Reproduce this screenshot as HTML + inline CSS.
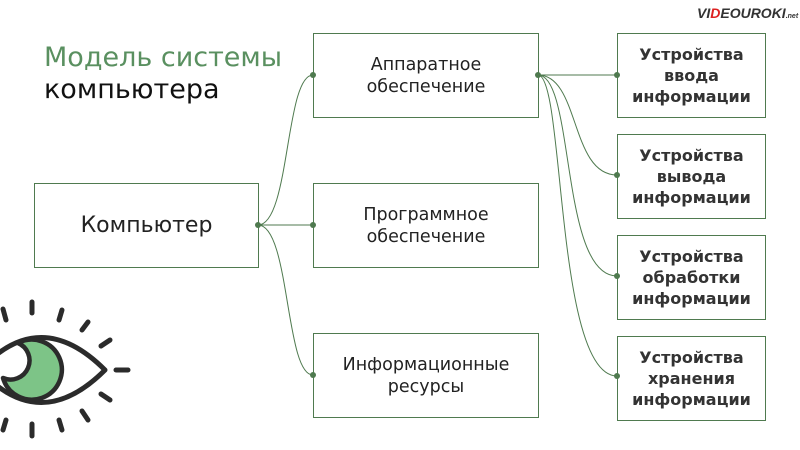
<!DOCTYPE html><html><head><meta charset="utf-8"><style>
body{margin:0;width:800px;height:450px;background:#fff;overflow:hidden;position:relative;font-family:"DejaVu Sans","Liberation Sans",sans-serif}
.b{position:absolute;border:1px solid #4f7a4f;box-sizing:border-box;display:flex;align-items:center;justify-content:center;text-align:center;color:#222;background:#fff}
.m{font-size:17.5px;line-height:22px}
.r{font-size:16px;line-height:21px;font-weight:bold;color:#333}
svg{position:absolute;left:0;top:0}
</style></head><body>
<div style="position:absolute;left:44px;top:41px;font-size:27px;line-height:33px;color:#5a9060">Модель системы</div>
<div style="position:absolute;left:44px;top:73px;font-size:27px;line-height:33px;color:#111">компьютера</div>
<div style="position:absolute;left:697px;top:5px;font-size:14px;font-weight:bold;font-style:italic;color:#333;font-family:'Liberation Sans',sans-serif">VI<span style="color:#d22">D</span>EOUROKI<span style="font-size:7px">.net</span></div>
<div class="b" style="left:34px;top:183px;width:225px;height:85px;font-size:22px">Компьютер</div>
<div class="b m" style="left:313px;top:33px;width:226px;height:85px">Аппаратное<br>обеспечение</div>
<div class="b m" style="left:313px;top:183px;width:226px;height:85px">Программное<br>обеспечение</div>
<div class="b m" style="left:313px;top:333px;width:226px;height:85px">Информационные<br>ресурсы</div>
<div class="b r" style="left:617px;top:33px;width:149px;height:85px">Устройства<br>ввода<br>информации</div>
<div class="b r" style="left:617px;top:134px;width:149px;height:85px">Устройства<br>вывода<br>информации</div>
<div class="b r" style="left:617px;top:235px;width:149px;height:85px">Устройства<br>обработки<br>информации</div>
<div class="b r" style="left:617px;top:336px;width:149px;height:85px">Устройства<br>хранения<br>информации</div>
<svg width="800" height="450" fill="none" stroke="#4f7a4f" stroke-width="1">
<path d="M258 225 C290 225,285 75,313 75 M258 225 L313 225 M258 225 C290 225,285 375,313 375"/>
<path d="M538 75 L617 75 M538 75 C580 75,570 175,617 175 M538 75 C575 75,560 276,617 276 M538 75 C565 75,555 376,617 376"/>
<g fill="#4f7a4f" stroke="none"><circle cx="258" cy="225" r="3"/><circle cx="313" cy="75" r="3"/><circle cx="313" cy="225" r="3"/><circle cx="313" cy="375" r="3"/><circle cx="538" cy="75" r="3"/><circle cx="617" cy="75" r="3"/><circle cx="617" cy="175" r="3"/><circle cx="617" cy="276" r="3"/><circle cx="617" cy="376" r="3"/></g>
<g stroke="#2b2b2b" stroke-width="5" stroke-linecap="round" stroke-linejoin="round">
<path d="M-20 370 Q40 305,105 370 Q40 435,-20 370" fill="none"/>
<path d="M18 343 A30 30 0 1 1 3 378 A14 14 0 0 0 18 343Z" fill="#7dc487" stroke-width="4.5"/>
<line x1="32" y1="302" x2="32" y2="313"/><line x1="3" y1="309" x2="6" y2="320"/><line x1="62" y1="310" x2="59" y2="320"/><line x1="88" y1="322" x2="82" y2="330"/><line x1="110" y1="340" x2="101" y2="346"/><line x1="116" y1="370" x2="128" y2="370"/><line x1="101" y1="394" x2="110" y2="400"/><line x1="82" y1="411" x2="88" y2="420"/><line x1="59" y1="420" x2="62" y2="430"/><line x1="32" y1="424" x2="32" y2="436"/><line x1="6" y1="420" x2="3" y2="430"/>
</g>
</svg>
</body></html>
